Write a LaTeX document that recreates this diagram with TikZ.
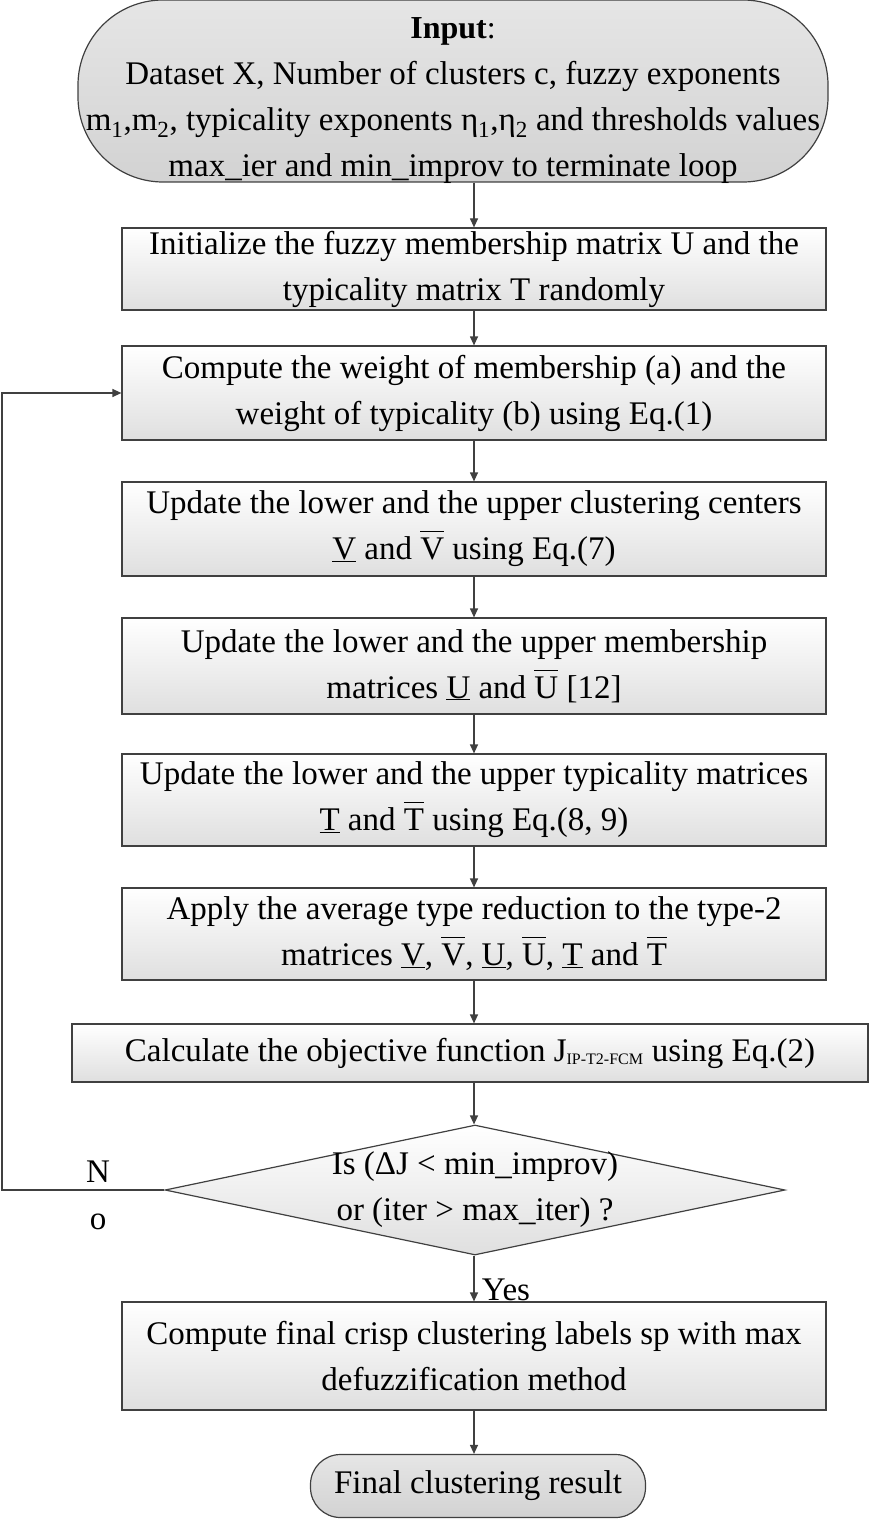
\documentclass[tikz,border=0pt]{standalone}
\usepackage{fontspec}
\setmainfont{Liberation Serif}
\usetikzlibrary{shapes.geometric,arrows.meta}
\newcommand{\ub}[1]{\underline{\smash{#1}}}
\newcommand{\ob}[1]{\ensuremath{\overline{\rule{0pt}{0.82em}\hbox{#1}}}}
\begin{document}
\begin{tikzpicture}[x=1pt,y=-1pt,
  every node/.style={font=\fontsize{33}{46}\selectfont, align=center},
  box/.style={draw=black!75, line width=1.2pt, top color=white, bottom color=gray!25, inner sep=0pt},
  stad/.style={draw=black!75, line width=1.2pt, rounded corners=30pt, top color=gray!20, bottom color=gray!35, inner sep=0pt},
  arr/.style={draw=black!75, line width=1.2pt, -{Triangle[length=9pt,width=8pt]}}]
\useasboundingbox (0,0) rectangle (886,1522);
\node[stad, rounded corners=85pt, minimum width=750pt, minimum height=182pt] (in) at (453,91) {};
\node (intext) at (453,101)
 {\fontsize{32}{45}\selectfont\textbf{Input}:\\Dataset X, Number of clusters c, fuzzy exponents\\m\textsubscript{1},m\textsubscript{2}, typicality exponents η\textsubscript{1},η\textsubscript{2} and thresholds values\\max\_ier and min\_improv to terminate loop};
\node[box, minimum width=704pt, minimum height=82pt] (b1) at (474,269) {Initialize the fuzzy membership matrix U and the\\typicality matrix T randomly};
\node[box, minimum width=704pt, minimum height=94pt] (b2) at (474,393) {Compute the weight of membership (a) and the\\weight of typicality (b) using Eq.(1)};
\node[box, minimum width=704pt, minimum height=94pt] (b3) at (474,529) {Update the lower and the upper clustering centers\\\ub{V} and \ob{V} using Eq.(7)};
\node[box, minimum width=704pt, minimum height=96pt] (b4) at (474,666) {Update the lower and the upper membership\\matrices \ub{U} and \ob{U} [12]};
\node[box, minimum width=704pt, minimum height=92pt] (b5) at (474,800) {Update the lower and the upper typicality matrices\\\ub{T} and \ob{T} using Eq.(8, 9)};
\node[box, minimum width=704pt, minimum height=92pt] (b6) at (474,934) {Apply the average type reduction to the type-2\\matrices \ub{V}, \ob{V}, \ub{U}, \ob{U}, \ub{T} and \ob{T}};
\node[box, minimum width=796pt, minimum height=58pt] (b7) at (470,1053) {Calculate the objective function J\textsubscript{\fontsize{16}{16}\selectfont IP-T2-FCM} using Eq.(2)};
\node[diamond, draw=black!75, line width=1.2pt, top color=white, bottom color=gray!25, minimum width=620pt, minimum height=130pt, inner sep=0pt, aspect=4.77] (d) at (475,1190) {};
\node at (475,1190) {Is (ΔJ < min\_improv)\\or (iter > max\_iter) ?};
\node[box, minimum width=704pt, minimum height=108pt] (b8) at (474,1356) {Compute final crisp clustering labels sp with max\\defuzzification method};
\node[stad, minimum width=335pt, minimum height=63pt] (fin) at (478,1486) {Final clustering result};
\draw[arr] (in.south -| b1.north) -- (b1);
\draw[arr] (b1) -- (b2);
\draw[arr] (b2) -- (b3);
\draw[arr] (b3) -- (b4);
\draw[arr] (b4) -- (b5);
\draw[arr] (b5) -- (b6);
\draw[arr] (b6.south) -- (b6.south |- b7.north);
\draw[arr] (b6.south |- b7.south) -- (d.north -| b6.south);
\draw[arr] (d.south -| b6.south) -- (b8.north -| b6.south);
\draw[arr] (b8.south -| b6.south) -- (fin.north -| b6.south);
\coordinate (l1) at (2,1190);
\coordinate (l2) at (2,393);
\draw[arr] (d.west) -- (l1) -- (l2) -- (b2.west);
\node at (98,1172) {N};
\node at (98,1222) {o};
\node at (506,1290) {Yes};
\end{tikzpicture}
\end{document}
